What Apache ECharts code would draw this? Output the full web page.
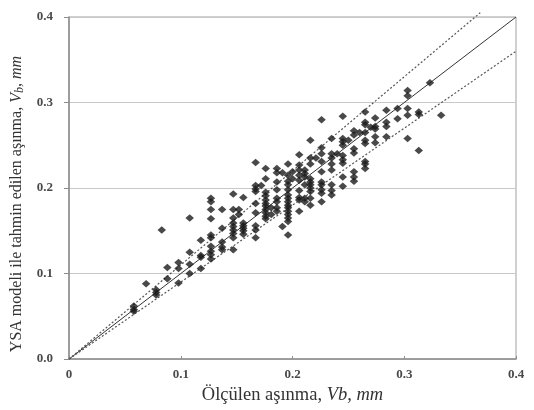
<!DOCTYPE html>
<html>
<head>
<meta charset="utf-8">
<script src="https://cdn.jsdelivr.net/npm/echarts@6/dist/echarts.min.js"></script>
<style>
  html, body { margin: 0; padding: 0; background: #fff; }
  #chart { width: 534px; height: 410px; }
</style>
</head>
<body>
<div id="chart"></div>
<script>
var colX = [0.058, 0.069, 0.078, 0.083, 0.088, 0.098, 0.108, 0.118, 0.127, 0.137,
  0.147, 0.152, 0.156, 0.167, 0.172, 0.176, 0.181, 0.186, 0.191, 0.196,
  0.200, 0.206, 0.211, 0.216, 0.221, 0.226, 0.235, 0.240, 0.245, 0.250,
  0.255, 0.260, 0.265, 0.270, 0.274, 0.284, 0.294, 0.303, 0.313, 0.323, 0.333];
var colY = [
  [0.062, 0.058, 0.056],
  [0.088],
  [0.081, 0.078, 0.075],
  [0.151],
  [0.107, 0.094],
  [0.113, 0.106, 0.089],
  [0.165, 0.125, 0.111, 0.100],
  [0.139, 0.121, 0.119, 0.106],
  [0.188, 0.184, 0.175, 0.164, 0.145, 0.142, 0.132, 0.126, 0.122, 0.117],
  [0.175, 0.153, 0.137, 0.131, 0.128],
  [0.193, 0.175, 0.165, 0.159, 0.155, 0.151, 0.147, 0.142, 0.128],
  [0.175, 0.169],
  [0.189, 0.159, 0.156, 0.153, 0.150, 0.146],
  [0.230, 0.203, 0.199, 0.196, 0.182, 0.171, 0.156, 0.151, 0.142],
  [0.203],
  [0.223, 0.211, 0.195, 0.191, 0.186, 0.182, 0.179, 0.175, 0.171, 0.167, 0.164],
  [0.177, 0.169],
  [0.223, 0.218, 0.207, 0.198, 0.188, 0.184, 0.177, 0.173],
  [0.218, 0.155],
  [0.228, 0.215, 0.208, 0.204, 0.198, 0.192, 0.188, 0.184, 0.180, 0.177, 0.173, 0.169, 0.165, 0.161, 0.145],
  [0.219, 0.211],
  [0.239, 0.227, 0.221, 0.215, 0.209, 0.197, 0.189, 0.186, 0.173],
  [0.221, 0.217, 0.213, 0.204, 0.188, 0.184],
  [0.256, 0.235, 0.228, 0.211, 0.207, 0.204, 0.200, 0.196, 0.188, 0.180],
  [0.235],
  [0.280, 0.247, 0.240, 0.231, 0.219, 0.207, 0.204, 0.198, 0.194, 0.184],
  [0.258, 0.240, 0.235, 0.228, 0.221, 0.204, 0.197, 0.192],
  [0.240],
  [0.284, 0.258, 0.254, 0.250, 0.238, 0.233, 0.229, 0.213, 0.202],
  [0.256],
  [0.267, 0.262, 0.246, 0.241, 0.219, 0.213, 0.208],
  [0.265],
  [0.289, 0.277, 0.274, 0.265, 0.256, 0.252, 0.231, 0.228, 0.223],
  [0.271],
  [0.282, 0.272, 0.269, 0.260, 0.253],
  [0.291, 0.277, 0.272, 0.260],
  [0.293, 0.281],
  [0.314, 0.308, 0.293, 0.285, 0.258],
  [0.289, 0.286, 0.244],
  [0.323],
  [0.285]
];
var idealLine = [[0, 0], [0.4, 0.4]];
var upperLine = [[0, 0], [0.368, 0.405]];
var lowerLine = [[0, 0], [0.4, 0.36]];
var axisTicks = [0, 0.1, 0.2, 0.3, 0.4];

var points = [];
colX.forEach(function (x, i) {
  colY[i].forEach(function (y) { points.push([x, y]); });
});

var chart = echarts.init(document.getElementById('chart'));
var serif = '"Liberation Serif", "DejaVu Serif", serif';

chart.setOption({
  animation: false,
  grid: { left: 69, right: 18, top: 17, bottom: 48, show: true, borderColor: '#a0a0a0', borderWidth: 1 },
  xAxis: {
    type: 'value', min: axisTicks[0], max: axisTicks[4], interval: 0.1,
    name: '{n|Ölçülen aşınma, }{i|Vb, mm}',
    nameLocation: 'middle', nameGap: 24,
    nameTextStyle: {
      rich: {
        n: { fontFamily: serif, fontSize: 18.5, color: '#333' },
        i: { fontFamily: serif, fontSize: 18.5, fontStyle: 'italic', color: '#333' }
      }
    },
    axisLine: { lineStyle: { color: '#8c8c8c', width: 1.5 } },
    axisTick: { inside: true, length: 3, lineStyle: { color: '#8c8c8c' } },
    splitLine: { show: false },
    axisLabel: {
      margin: 9, fontFamily: serif, fontSize: 13, fontWeight: 'bold', color: '#4a4a4a',
      formatter: function (v) { return v === 0 ? '0' : v.toFixed(1); }
    }
  },
  yAxis: {
    type: 'value', min: axisTicks[0], max: axisTicks[4], interval: 0.1,
    name: '{n|YSA modeli ile tahmin edilen aşınma, }{i|V}{s|b}{i|, mm}',
    nameLocation: 'middle', nameGap: 38,
    nameTextStyle: {
      padding: [0, 32, 0, 0],
      rich: {
        n: { fontFamily: serif, fontSize: 16, color: '#333' },
        i: { fontFamily: serif, fontSize: 16, fontStyle: 'italic', color: '#333' },
        s: { fontFamily: serif, fontSize: 12, fontStyle: 'italic', color: '#333', verticalAlign: 'bottom', padding: [6, 0, 0, 0] }
      }
    },
    axisLine: { lineStyle: { color: '#8c8c8c', width: 1.5 } },
    axisTick: { show: true, length: 5, lineStyle: { color: '#8c8c8c' } },
    splitLine: { lineStyle: { color: '#c8c8c8', width: 1 } },
    axisLabel: {
      margin: 16, fontFamily: serif, fontSize: 13, fontWeight: 'bold', color: '#4a4a4a',
      formatter: function (v) { return v.toFixed(1); }
    }
  },
  series: [
    {
      type: 'scatter', data: points, symbol: 'diamond', symbolSize: [8.5, 7.5],
      itemStyle: { color: '#1c1c1c' }, z: 3
    },
    {
      type: 'line', data: idealLine, symbol: 'none',
      lineStyle: { color: '#333', width: 1 }, z: 2
    },
    {
      type: 'line', data: upperLine, symbol: 'none', clip: false,
      lineStyle: { color: '#555', width: 1.2, type: [2, 2] }, z: 2
    },
    {
      type: 'line', data: lowerLine, symbol: 'none',
      lineStyle: { color: '#555', width: 1.2, type: [2, 2] }, z: 2
    }
  ]
});
</script>
</body>
</html>
